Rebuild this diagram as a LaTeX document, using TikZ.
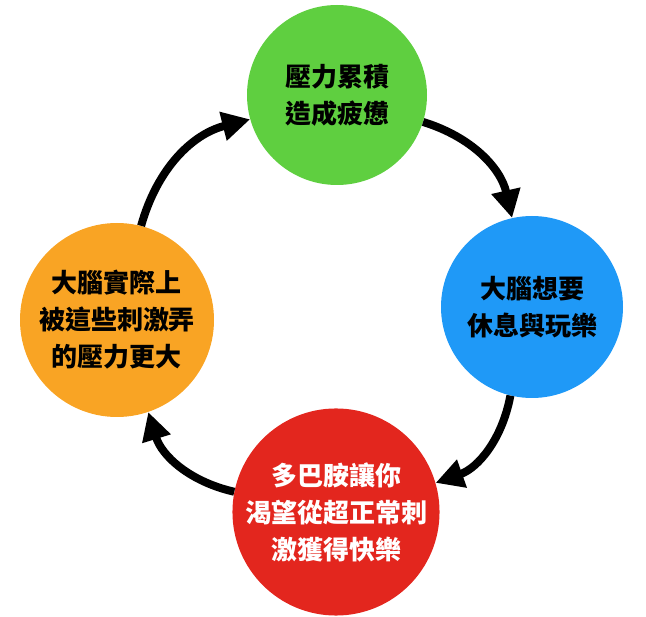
\documentclass[tikz,border=0pt]{standalone}
\usepackage{fontspec}
\usepackage{xcolor}
\usepackage{tikz}
\usetikzlibrary{arrows.meta, positioning}
\newfontfamily\cjk{Noto Sans CJK TC}
\definecolor{stressgreen}{RGB}{95,207,64}
\definecolor{restblue}{RGB}{31,153,247}
\definecolor{dopared}{RGB}{227,38,30}
\definecolor{moreorange}{RGB}{249,164,36}

\begin{document}
\begin{tikzpicture}[
      x=1pt, y=1pt,
      stage/.style={circle, inner sep=0pt, align=center, font=\cjk\bfseries\fontsize{26}{37}\selectfont},
      arr/.style={-{Triangle[length=28pt, width=28pt]}, line width=8pt, bend left=30}
    ]
    \useasboundingbox (0,0) rectangle (646,-617);
    \node[stage, fill=stressgreen, minimum size=180pt] (stress) at (337,-95)  {壓力累積\\造成疲憊};
    \node[stage, fill=restblue, minimum size=182pt]    (rest)   at (532,-307) {大腦想要\\休息與玩樂};
    \node[stage, fill=dopared, text=white, minimum size=198pt] (dopa) at (336,-512) {多巴胺讓你\\渴望從超正常刺\\激獲得快樂};
    \node[stage, fill=moreorange, minimum size=194pt]  (more)   at (117,-320) {大腦實際上\\被這些刺激弄\\的壓力更大};

    \draw[arr] (stress) to (rest);
    \draw[arr] (rest) to (dopa);
    \draw[arr] (dopa) to (more);
    \draw[arr] (more) to (stress);
  \end{tikzpicture}
\end{document}
